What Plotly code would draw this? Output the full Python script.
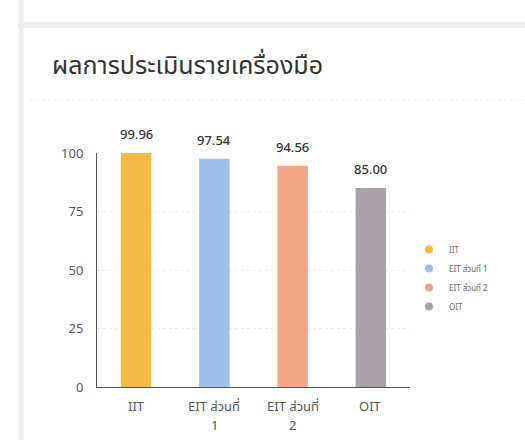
import plotly.graph_objects as go

categories = ["IIT", "EIT ส่วนที่ 1", "EIT ส่วนที่ 2", "OIT"]
tick_line1 = ["IIT", "EIT ส่วนที่", "EIT ส่วนที่", "OIT"]
tick_line2 = ["", "1", "2", ""]
scores = [99.96, 97.54, 94.56, 85.00]
colors = ["#F5B945", "#9FBEEA", "#F2A686", "#A9A1A7"]
title_text = "ผลการประเมินรายเครื่องมือ"

FONT = "Noto Sans Thai, Kanit, Prompt, Noto Sans, DejaVu Sans, sans-serif"

fig = go.Figure()
fig.add_trace(go.Bar(
    x=categories, y=scores, marker=dict(color=colors, line=dict(width=0)),
    width=0.39, showlegend=False, hoverinfo="skip",
))
for name, col in zip(categories, colors):
    fig.add_trace(go.Scatter(
        x=[None], y=[None], mode="markers", name=name,
        marker=dict(symbol="circle", size=8, color=col),
    ))

for cat, val in zip(categories, scores):
    fig.add_annotation(
        x=cat, y=val, text=f"{val:.2f}", showarrow=False,
        yanchor="bottom", yshift=6,
        font=dict(family=FONT, size=13, color="#333333", weight=500),
    )

# category labels (two lines, spaced like the reference)
for cat, l1, l2 in zip(categories, tick_line1, tick_line2):
    fig.add_annotation(x=cat, y=0, yref="y", text=l1, showarrow=False,
                       yanchor="middle", yshift=-20,
                       font=dict(family=FONT, size=13, color="#555555"))
    if l2:
        fig.add_annotation(x=cat, y=0, yref="y", text=l2, showarrow=False,
                           yanchor="middle", yshift=-39,
                           font=dict(family=FONT, size=13, color="#555555"))

# card decorations
def py(pix):
    return 1 - (pix - 153) / 234

def px(pix):
    return (pix - 97) / 313

fig.add_shape(type="line", xref="paper", yref="paper", x0=px(18), x1=px(530),
              y0=py(25), y1=py(25),
              line=dict(color="#EDEDF0", width=6), layer="below")
fig.add_shape(type="line", xref="paper", yref="paper", x0=px(30), x1=px(530),
              y0=py(100), y1=py(100),
              line=dict(color="#EEEEEE", width=1, dash="dot"), layer="below")
fig.add_shape(type="line", xref="paper", yref="paper",
              x0=px(21), x1=px(21), y0=py(-5), y1=py(445),
              line=dict(color="#EDEDF0", width=5), layer="below")

fig.update_layout(
    width=525, height=440,
    margin=dict(l=97, r=115, t=153, b=53),
    paper_bgcolor="white", plot_bgcolor="white",
    title=dict(text=title_text, x=52 / 525, xanchor="left", y=1 - 65 / 440,
               yanchor="middle", font=dict(family=FONT, size=25, color="#333333")),
    font=dict(family=FONT, color="#444444"),
    xaxis=dict(
        showticklabels=False, showgrid=False, automargin=False,
        showline=True, linecolor="#555555", linewidth=1, ticks="",
        range=[-0.5, 3.5],
    ),
    yaxis=dict(
        range=[0, 100], tickvals=[0, 25, 50, 75, 100], automargin=False,
        showgrid=True, gridcolor="#EBEBEB", griddash="dot",
        showline=True, linecolor="#555555", linewidth=1, ticks="",
        zeroline=False, tickfont=dict(size=13, color="#555555"),
        ticklabelstandoff=10,
    ),
    legend=dict(x=px(409), y=py(235), xanchor="left", yanchor="top",
                font=dict(size=8, color="#666666"), itemwidth=30,
                tracegroupgap=0, bgcolor="rgba(0,0,0,0)"),
)

fig.write_html("out.html", config={"displayModeBar": False},
               post_script="document.body.style.margin='0';document.body.style.padding='0';")
